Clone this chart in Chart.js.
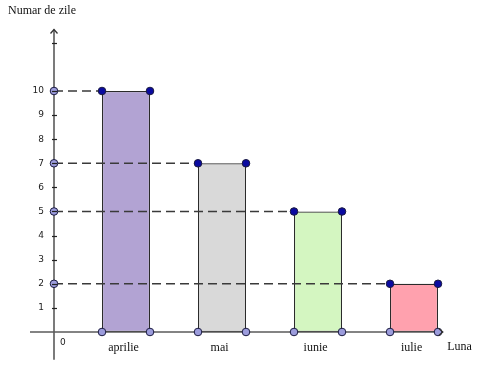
<!DOCTYPE html>
<html>
<head>
<meta charset="utf-8">
<script src="https://cdn.jsdelivr.net/npm/chart.js@4/dist/chart.umd.min.js"></script>
<style>
  html, body { margin: 0; padding: 0; background: #fff; }
  #wrap { width: 485px; height: 380px; position: relative; }
</style>
</head>
<body>
<div id="wrap"><canvas id="c"></canvas></div>
<script>
// ---- data ----
const months = ['aprilie', 'mai', 'iunie', 'iulie'];
const days = [10, 7, 5, 2];
const yTickLabels = ['1', '2', '3', '4', '5', '6', '7', '8', '9', '10'];
const yTickMarks = [1, 2, 3, 4, 5, 6, 7, 8, 9, 10, 12];
const yAxisTitle = 'Numar de zile';
const xAxisTitle = 'Luna';

// ---- styling ----
const barColors = ['#b2a3d3', '#d9d9d9', '#d4f6c1', '#ffa1ae'];
const axisColor = '#5a5a5a';
const dashColor = '#3a3a3a';

// bar i occupies x from 2i+1 to 2i+2 (units of the drawing)
const barLeft = i => 2 * i + 1;

const barData = months.map((m, i) => ({ x: barLeft(i) + 0.5, y: days[i] }));
const topPts = [];
const bottomPts = [];
months.forEach((m, i) => {
  topPts.push({ x: barLeft(i), y: days[i] }, { x: barLeft(i) + 1, y: days[i] });
  bottomPts.push({ x: barLeft(i), y: 0 }, { x: barLeft(i) + 1, y: 0 });
});
const axisPts = days.map(v => ({ x: 0, y: v }));

const dashSets = days.map((v, i) => ({
  type: 'line',
  data: [{ x: 0, y: v }, { x: barLeft(i), y: v }],
  borderColor: dashColor,
  borderWidth: 1.5,
  borderDash: [9, 5],
  pointRadius: 0,
  fill: false,
  order: 1
}));

const pointSet = (data, color) => ({
  type: 'line',
  data,
  showLine: false,
  pointRadius: 3.8,
  pointBackgroundColor: color,
  pointBorderColor: '#1a1a40',
  pointBorderWidth: 1,
  order: 0
});

const decor = {
  id: 'decor',
  afterDatasetsDraw(chart) {
    const ctx = chart.ctx;
    const xs = chart.scales.x, ys = chart.scales.y;
    const x0 = xs.getPixelForValue(0), y0 = ys.getPixelForValue(0);
    ctx.save();
    // ticks
    ctx.strokeStyle = '#222';
    ctx.lineWidth = 1.2;
    yTickMarks.forEach(v => {
      const py = Math.round(ys.getPixelForValue(v)) + 0.5;
      ctx.beginPath();
      ctx.moveTo(x0 - 2, py);
      ctx.lineTo(x0 + 3, py);
      ctx.stroke();
    });
    // arrow heads
    ctx.strokeStyle = '#333';
    ctx.lineWidth = 1.3;
    const ax = xs.getPixelForValue(8.1);
    ctx.beginPath();
    ctx.moveTo(ax - 4, y0 - 3.5); ctx.lineTo(ax, y0); ctx.lineTo(ax - 4, y0 + 3.5);
    ctx.stroke();
    const ay = ys.getPixelForValue(12.55);
    ctx.beginPath();
    ctx.moveTo(x0 - 3.5, ay + 4); ctx.lineTo(x0, ay); ctx.lineTo(x0 + 3.5, ay + 4);
    ctx.stroke();
    // tick labels
    ctx.fillStyle = '#222';
    ctx.font = '9px "DejaVu Sans"';
    ctx.textAlign = 'right';
    ctx.textBaseline = 'middle';
    yTickLabels.forEach((t, i) => {
      ctx.fillText(t, x0 - 10, ys.getPixelForValue(i + 1));
    });
    ctx.textAlign = 'left';
    ctx.fillText('0', x0 + 6, y0 + 11);
    // month labels
    ctx.fillStyle = '#111';
    ctx.font = '12px "Liberation Serif"';
    ctx.textAlign = 'center';
    months.forEach((m, i) => {
      ctx.fillText(m, xs.getPixelForValue(barLeft(i) + 0.45), y0 + 16);
    });
    ctx.fillText(xAxisTitle, xs.getPixelForValue(8.45), y0 + 15);
    ctx.textAlign = 'left';
    ctx.fillText(yAxisTitle, 8, 11);
    ctx.restore();
  }
};

new Chart(document.getElementById('c'), {
  type: 'bar',
  data: {
    datasets: [
      pointSet(topPts, '#0a0aa0'),
      pointSet(bottomPts, '#9c9cdc'),
      pointSet(axisPts, '#9c9cdc'),
      ...dashSets,
      {
        type: 'line',
        data: [{ x: -0.5, y: 0 }, { x: 8.1, y: 0 }],
        borderColor: axisColor, borderWidth: 1.6, pointRadius: 0, order: 2
      },
      {
        type: 'line',
        data: [{ x: 0, y: -1.15 }, { x: 0, y: 12.55 }],
        borderColor: axisColor, borderWidth: 1.6, pointRadius: 0, order: 2
      },
      {
        type: 'bar',
        data: barData,
        backgroundColor: barColors,
        borderColor: '#2b2b2b',
        borderWidth: 1.2,
        borderSkipped: false,
        categoryPercentage: 1,
        barPercentage: 0.5,
        order: 3
      }
    ]
  },
  options: {
    responsive: true,
    maintainAspectRatio: false,
    animation: false,
    layout: { padding: 0, autoPadding: false },
    plugins: { legend: { display: false }, tooltip: { enabled: false }, title: { display: false } },
    scales: {
      x: { type: 'linear', min: -1.125, max: 8.979, offset: false, display: false },
      y: { type: 'linear', min: -1.992, max: 13.776, display: false }
    }
  },
  plugins: [decor]
});
</script>
</body>
</html>
